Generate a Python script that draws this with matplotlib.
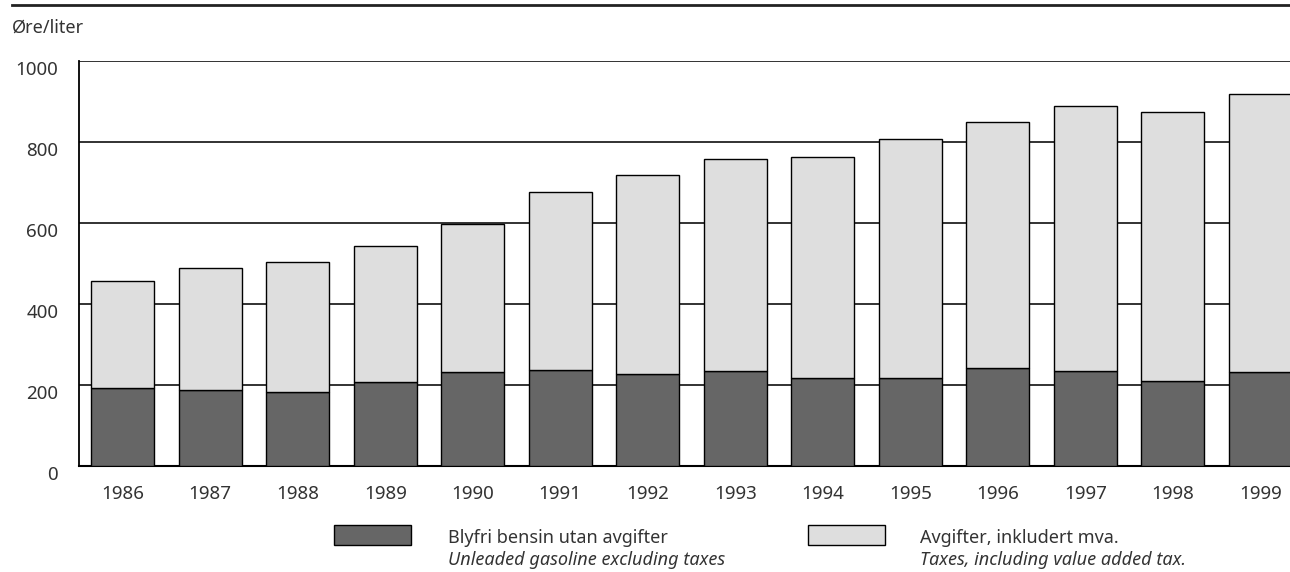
import matplotlib

matplotlib.use("Agg")

from matplotlib import pyplot as plt
from matplotlib import patches
from matplotlib.lines import Line2D
from matplotlib.transforms import ScaledTranslation

years = ["1986", "1987", "1988", "1989", "1990", "1991", "1992",
         "1993", "1994", "1995", "1996", "1997", "1998", "1999"]
# pris utan avgifter / price excluding taxes (øre per liter)
price_ex_tax = [191, 188, 181, 206, 232, 236, 227, 233, 217, 216, 241, 233, 210, 231]
# total pris (topp av stolpen)
price_total = [456, 489, 504, 542, 596, 677, 718, 757, 762, 808, 850, 890, 874, 919]
taxes = [t - p for t, p in zip(price_total, price_ex_tax)]

yticks = [0, 200, 400, 600, 800, 1000]
legend_no = ["Blyfri bensin utan avgifter", "Avgifter, inkludert mva."]
legend_en = ["Unleaded gasoline excluding taxes", "Taxes, including value added tax."]

dark = "#666666"
light = "#dedede"
txt = "#333333"

plt.rcParams["font.family"] = ["Noto Sans", "DejaVu Sans"]

W, H = 1290, 572
fig = plt.figure(figsize=(W / 100, H / 100), dpi=100)
fig.set_facecolor("w")

ax_left, ax_bottom, ax_top, ax_right = 79, 465.7, 61, 1304
ax = fig.add_axes([ax_left / W, 1 - ax_bottom / H,
                   (ax_right - ax_left) / W, (ax_bottom - ax_top) / H])

x = list(range(len(years)))
ax.bar(x, price_ex_tax, width=0.72, color=dark, edgecolor="black", linewidth=1, zorder=3)
ax.bar(x, taxes, width=0.72, bottom=price_ex_tax, color=light, edgecolor="black",
       linewidth=1, zorder=3)

ax.set_xlim(-0.5, len(years) - 0.5)
ax.set_ylim(0, 1000)
ax.set_xticks(x)
ax.set_xticklabels(years)
ax.set_yticks(yticks)
ax.set_yticklabels([str(v) for v in yticks])
ax.tick_params(axis="both", length=0, labelsize=13.5, colors=txt)
ax.tick_params(axis="x", pad=14)
ax.tick_params(axis="y", pad=15)
for lab in ax.get_yticklabels():
    lab.set_transform(lab.get_transform() + ScaledTranslation(0, -0.07, fig.dpi_scale_trans))

ax.grid(axis="y", color="#222222", linewidth=1.3)
ax.set_axisbelow(True)
for side in ["top", "right"]:
    ax.spines[side].set_visible(False)
ax.spines["left"].set_linewidth(1.3)
ax.spines["bottom"].set_linewidth(1.5)

# top rule and unit label
fig.add_artist(Line2D([12 / W, 1], [1 - 5 / H] * 2, color="#222222", lw=2))
fig.text(12 / W, 1 - 28 / H, "Øre/liter", fontsize=13, color=txt, va="center", ha="left")

# legend drawn by hand
for i, (px, tx) in enumerate([(334, 448), (808, 920)]):
    fig.add_artist(patches.Rectangle((px / W, 1 - 545 / H), 77 / W, 20 / H,
                                     facecolor=[dark, light][i], edgecolor="black",
                                     linewidth=1, transform=fig.transFigure))
    fig.text(tx / W, 1 - 538 / H, legend_no[i], fontsize=13, color=txt, va="center")
    fig.text(tx / W, 1 - 560 / H, legend_en[i], fontsize=13, color=txt, va="center",
             style="italic")

fig.savefig("out.png", dpi=100)
